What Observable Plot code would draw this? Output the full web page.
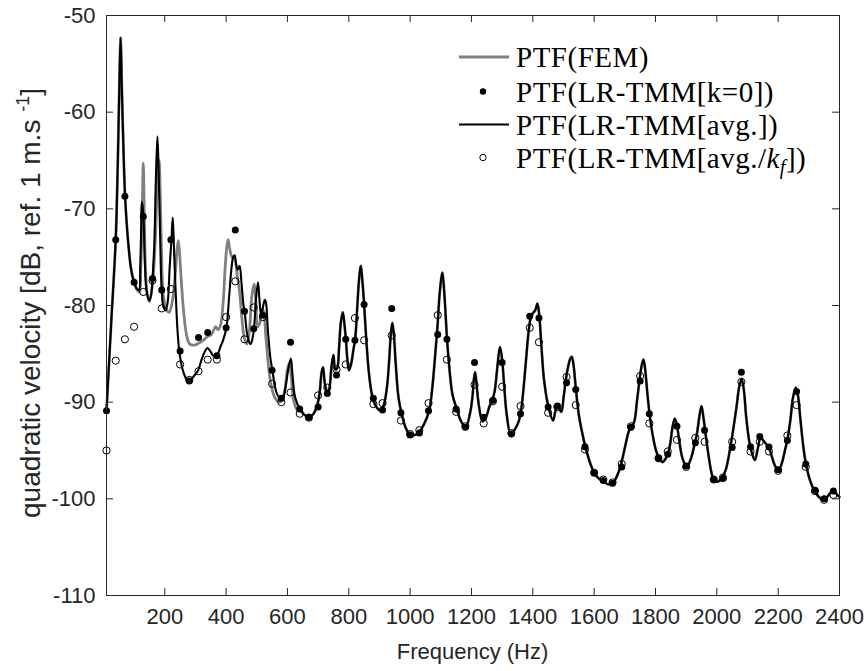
<!DOCTYPE html>
<html><head><meta charset="utf-8">
<script src="https://cdn.jsdelivr.net/npm/d3@7"></script>
<script src="https://cdn.jsdelivr.net/npm/@observablehq/plot@0.6"></script>
<style>body{margin:0;background:#fff} #chart{width:868px;height:671px}</style>
</head><body><div id="chart"></div>
<script>
const xTicks = [200,400,600,800,1000,1200,1400,1600,1800,2000,2200,2400];
const yTicks = [-110,-100,-90,-80,-70,-60,-50];
const legendLabels = ["PTF(FEM)","PTF(LR-TMM[k=0])","PTF(LR-TMM[avg.])","PTF(LR-TMM[avg./"];

// LR-TMM[avg.] curve (frequency Hz, dB)
const avgCurve = [[10,-90.86],[25,-82],[40,-73.2],[47,-65],[52,-57],[56,-52.3],[60,-57.5],[65,-63.5],[70.6,-68.7],[80,-73.2],[90,-76.2],[100,-77.6],[110,-78.3],[116,-78.4],[120,-76],[123,-72],[125,-69.3],[128,-69.8],[131,-71.2],[135,-75.5],[140,-78.3],[149,-79.5],[155,-79],[160,-77.2],[166,-73.5],[171,-67],[176,-62.5],[180,-66],[185,-73],[190,-78.4],[196,-80.2],[203,-80.5],[210,-79.5],[216,-76],[221.7,-73.2],[226,-70.9],[230,-74],[236,-79],[242,-82.8],[248,-84.9],[258,-86.6],[270,-87.6],[279,-87.8],[290,-87.5],[300,-87.1],[309,-86.7],[320,-85.6],[330,-84.8],[339,-84.4],[350,-84.8],[358,-85.2],[366,-85.3],[372,-85.1],[380,-84.4],[390,-83.6],[401,-82.3],[410,-79],[418,-76],[423,-75],[428,-74.8],[433,-75.8],[438,-76.3],[444,-75.9],[450,-77.6],[456,-79.8],[461,-80.8],[470,-83.2],[480,-84.0],[486,-83.4],[491,-82.4],[497,-79.5],[504,-77.6],[509,-79.5],[514,-81],[520,-80.2],[526,-79.4],[530,-79.7],[536,-82.5],[545,-85.6],[551,-86.7],[560,-88.5],[570,-89.4],[583.6,-89.66],[595,-88.2],[603,-86.5],[611,-85.5],[616,-87],[625,-89.5],[640,-90.7],[655,-91.3],[670.6,-91.55],[685,-91.2],[698,-90.2],[705,-89],[711,-87],[716,-86.4],[722,-88.1],[730,-89],[737,-88.5],[743,-86.5],[750,-85.1],[756,-86.6],[762,-86.5],[768,-84.5],[774,-81.8],[780.4,-80.7],[786,-82],[791,-83.7],[796,-85.8],[801,-86.7],[808,-86],[815,-84.6],[821,-83.4],[827,-80.5],[833,-77.5],[839,-75.9],[845,-77.7],[850,-79.9],[857,-83.5],[865,-86.8],[873,-88.8],[880,-89.8],[892,-90.6],[904,-90.9],[915,-90.2],[925,-88.3],[932,-85.5],[937,-83],[942,-81.8],[947,-83],[953,-86],[962,-89.5],[971.6,-91.1],[985,-92.6],[1000,-93.4],[1015,-93.4],[1029,-93.1],[1045,-92.3],[1062,-90.9],[1072,-88.6],[1082,-85],[1090,-81.8],[1097,-78.5],[1105,-76.6],[1112,-79],[1120,-83.3],[1128,-86.5],[1138,-89.2],[1152,-90.7],[1165,-91.9],[1181,-92.6],[1195,-91.2],[1203,-89.5],[1208,-87.6],[1212,-86.9],[1217,-88.3],[1224,-90.3],[1236,-92.0],[1248,-91.5],[1258,-90.5],[1268,-89.8],[1276,-88.8],[1284,-86.5],[1293,-84.3],[1300,-85.6],[1306,-88],[1315,-91.3],[1328,-93.3],[1342,-92.8],[1355,-91.9],[1362,-90.8],[1370,-88.5],[1378,-85.6],[1386,-82.8],[1393,-81.3],[1400,-80.8],[1408,-80.5],[1415,-79.8],[1421,-81],[1428,-84.2],[1437,-87.8],[1451,-90.5],[1466,-91.9],[1473,-91],[1480,-90.4],[1486,-90.7],[1493,-91],[1500,-89.6],[1508,-87.6],[1516,-86.2],[1522,-85.5],[1527,-85.3],[1533,-86.2],[1540,-88.5],[1550,-91.3],[1560,-93],[1573,-94.8],[1587,-96.3],[1600,-97.3],[1615,-97.9],[1627,-98.1],[1645,-98.5],[1660,-98.4],[1675,-97.6],[1687,-96.5],[1703,-94.3],[1712,-93.1],[1719,-92.6],[1730,-92.1],[1740,-89.8],[1748,-87.7],[1755,-86.2],[1760.7,-85.6],[1766,-86.5],[1773,-88.9],[1781,-91.3],[1792,-93.6],[1805,-95.3],[1822.7,-96.2],[1832,-95.9],[1840,-95.4],[1848,-94.3],[1856,-92.5],[1863,-91.7],[1870,-92.4],[1877,-93.9],[1888,-95.8],[1902,-96.7],[1915,-95.9],[1927,-94.4],[1935,-93.3],[1943,-91.5],[1950,-90.4],[1956,-91.5],[1963,-93.2],[1972,-95.3],[1982,-97.2],[1991,-98.1],[2005,-98.2],[2018,-97.8],[2030,-96.9],[2045,-94.5],[2055,-92.5],[2065,-90.3],[2073,-88.4],[2081,-87.6],[2088,-88.7],[2096,-91.6],[2105,-93.9],[2113,-95.1],[2124,-96.0],[2133,-94.9],[2143,-93.6],[2150,-93.9],[2160,-94.3],[2170,-94.7],[2180,-95.7],[2190,-96.6],[2201,-97.1],[2212,-96.3],[2222,-95],[2230,-93.9],[2240,-91.8],[2248,-89.6],[2257.5,-88.5],[2265,-89.4],[2272,-91.6],[2282,-94.6],[2290,-96.3],[2303,-98],[2317,-99.1],[2333,-99.8],[2348,-100.1],[2360,-99.8],[2370,-99.4],[2380,-99.2],[2390,-99.5],[2400,-99.8]];

// FEM curve below 640 Hz (above it FEM follows the LR-TMM[avg.] curve)
const femLow = [[10,-90.86],[25,-82],[40,-73.2],[47,-65],[52,-57],[56,-52.3],[60,-57.5],[65,-63.5],[70.6,-68.7],[80,-73.2],[90,-76.2],[100,-77.6],[110,-78.4],[117,-78.6],[122,-76],[126,-71],[130,-65.3],[133,-70],[137,-76],[142,-78.6],[150,-79.6],[160,-77.8],[168,-74],[174,-69],[178,-66],[181.5,-65],[185,-68],[189,-74],[195,-78.8],[205,-80.4],[214,-80.7],[225,-79.5],[234,-76.8],[240,-74.3],[244,-73.3],[248,-74.5],[254,-77.5],[262,-80.8],[272,-83.2],[281.5,-84.0],[295,-84.1],[310,-83.9],[325,-83.6],[340,-83.2],[352,-83.0],[360,-82.5],[366,-82.2],[374,-82.5],[382,-82],[390,-79.8],[397,-76],[402,-74],[406.5,-73.2],[411,-74],[418,-74.9],[428,-75.2],[436,-76.8],[444,-78.6],[452,-81.5],[459,-83.3],[468,-84.0],[476,-82.6],[484,-79],[491,-77.8],[497,-79.6],[503,-82.2],[510,-81.8],[517,-80.4],[522,-80.6],[530,-83.4],[540,-86.8],[548,-88.4],[560,-89.6],[576,-90.0],[590,-89],[598,-87],[605,-86],[611,-87],[620,-89.8],[632,-90.8]];

// sampled frequencies of the marker series
const sampleHz = [10,40,70,100,130,160,190,220,250,280,310,340,370,400,430,460,490,520,550,580,610,640,670,700,730,760,790,820,850,880,910,940,970,1000,1030,1060,1090,1120,1150,1180,1210,1240,1270,1300,1330,1360,1390,1420,1450,1480,1510,1540,1570,1600,1630,1660,1690,1720,1750,1780,1810,1840,1870,1900,1930,1960,1990,2020,2050,2080,2110,2140,2170,2200,2230,2260,2290,2320,2350,2380];
const k0Db = [-90.9,-73.2,-68.7,-77.6,-70.8,-77.2,-78.4,-73.2,-84.7,-87.8,-83.3,-82.8,-85.2,-82.3,-72.2,-80.6,-82.4,-81.0,-86.7,-89.6,-83.8,-90.7,-91.55,-90.5,-89.1,-87.2,-83.5,-83.6,-79.9,-89.6,-90.8,-80.3,-91.1,-93.4,-93.2,-90.9,-83.0,-83.5,-90.7,-92.6,-85.9,-91.55,-89.8,-85.9,-93.3,-91.2,-81.1,-81.3,-90.5,-90.4,-88.0,-88.7,-94.6,-97.3,-98.1,-98.4,-96.7,-92.6,-87.8,-91.2,-95.8,-95.4,-92.5,-96.6,-94.2,-92.9,-98.0,-97.9,-94.7,-86.9,-94.6,-93.55,-94.65,-97.0,-93.97,-88.9,-96.4,-99.1,-100.0,-99.2];
const kfDb = [-95.0,-85.7,-83.5,-82.2,-78.6,-77.4,-80.3,-78.3,-86.1,-87.7,-86.8,-85.6,-85.6,-81.2,-77.5,-83.5,-80.2,-81.2,-88.1,-90.0,-89.0,-91.2,-91.6,-89.3,-88.5,-86.6,-86.1,-81.3,-83.6,-90.2,-90.1,-83.1,-91.9,-93.3,-92.9,-90.1,-81.0,-85.6,-91.0,-92.5,-88.2,-92.2,-89.9,-88.4,-93.2,-90.4,-82.3,-83.8,-91.1,-90.5,-87.4,-90.3,-94.9,-97.3,-98.0,-98.3,-96.4,-92.5,-87.3,-92.2,-95.8,-95.1,-93.9,-96.7,-93.7,-94.1,-98.0,-97.8,-94.1,-87.9,-95.1,-94.1,-95.1,-97.1,-93.45,-90.3,-96.7,-99.2,-100.1,-99.6];

const avg = avgCurve.map(([f, db]) => ({f, db}));
const fem = femLow.concat(avgCurve.filter(d => d[0] >= 640)).map(([f, db]) => ({f, db}));
const k0 = sampleHz.map((f, i) => ({f, db: k0Db[i]}));
const kf = sampleHz.map((f, i) => ({f, db: kfDb[i]}));

const W = 868, H = 671, mL = 106, mR = 29, mT = 15, mB = 76;
const pw = W - mL - mR, ph = H - mT - mB;
const axisColor = "#262626";
const sans = "'Liberation Sans', Arial, sans-serif";

const plot = Plot.plot({
  width: W, height: H,
  marginLeft: mL, marginRight: mR, marginTop: mT, marginBottom: mB,
  style: {fontFamily: sans, fontSize: "22px", color: axisColor, background: "white"},
  x: {domain: [10, 2400]},
  y: {domain: [-110, -50]},
  marks: [
    Plot.line(fem, {x: "f", y: "db", stroke: "#808080", strokeWidth: 2.8, curve: "catmull-rom"}),
    Plot.dot(k0, {x: "f", y: "db", r: 3.5, fill: "black"}),
    Plot.line(avg, {x: "f", y: "db", stroke: "black", strokeWidth: 2.1, curve: "catmull-rom"}),
    Plot.dot(kf, {x: "f", y: "db", r: 3.6, stroke: "black", strokeWidth: 1, fill: "none"}),
    Plot.frame({stroke: axisColor, strokeWidth: 1}),
    Plot.tickX(xTicks, {x: d => d, stroke: axisColor, insetTop: ph - 7}),
    Plot.tickX(xTicks, {x: d => d, stroke: axisColor, insetBottom: ph - 7}),
    Plot.tickY(yTicks, {y: d => d, stroke: axisColor, insetRight: pw - 7}),
    Plot.tickY(yTicks, {y: d => d, stroke: axisColor, insetLeft: pw - 7}),
    Plot.axisX(xTicks, {tickSize: 0, tickPadding: 13, label: null, tickFormat: d => String(d)}),
    Plot.axisY(yTicks, {tickSize: 0, tickPadding: 11, label: null, tickFormat: d => String(d)})
  ]
});
document.getElementById("chart").appendChild(plot);

const svg = d3.select(plot);
// axis titles
svg.append("text").attr("x", mL + pw / 2).attr("y", 659).attr("text-anchor", "middle")
  .attr("font-family", sans).attr("font-size", 22).attr("fill", axisColor)
  .text("Frequency (Hz)");
const yl = svg.append("text").attr("transform", "translate(40,303) rotate(-90)").attr("text-anchor", "middle")
  .attr("font-family", sans).attr("font-size", 28).attr("fill", axisColor);
yl.append("tspan").text("quadratic velocity [dB, ref. 1 m.s ");
yl.append("tspan").attr("dy", -11).attr("font-size", 18).text("-1");
yl.append("tspan").attr("dy", 11).text("]");

// legend
const rows = [57, 91.5, 124.5, 157.5];
const lg = svg.append("g").attr("font-family", "'Liberation Serif', 'Times New Roman', serif")
  .attr("font-size", 29).attr("letter-spacing", "0.5px").attr("text-anchor", "start").attr("fill", "black");
lg.append("line").attr("x1", 459).attr("x2", 509).attr("y1", rows[0]).attr("y2", rows[0]).attr("stroke", "#808080").attr("stroke-width", 2.8);
lg.append("circle").attr("cx", 483).attr("cy", rows[1]).attr("r", 3.2).attr("fill", "black");
lg.append("line").attr("x1", 459).attr("x2", 509).attr("y1", rows[2]).attr("y2", rows[2]).attr("stroke", "black").attr("stroke-width", 2.1);
lg.append("circle").attr("cx", 483).attr("cy", rows[3]).attr("r", 3.2).attr("fill", "none").attr("stroke", "black").attr("stroke-width", 1);
for (let i = 0; i < 3; i++) lg.append("text").attr("x", 516).attr("y", rows[i] + 10).text(legendLabels[i]);
const t4 = lg.append("text").attr("x", 516).attr("y", rows[3] + 10);
t4.append("tspan").text(legendLabels[3]);
t4.append("tspan").attr("font-style", "italic").text("k");
t4.append("tspan").attr("font-style", "italic").attr("font-size", 20).attr("dy", 6).text("f");
t4.append("tspan").attr("dy", -6).text("])");
</script></body></html>
